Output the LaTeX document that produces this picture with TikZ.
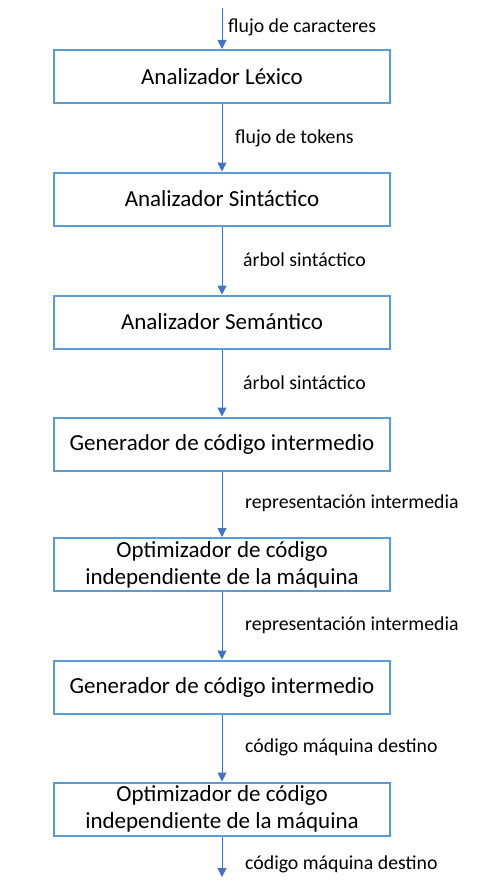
\documentclass[tikz,border=0pt]{standalone}
\usepackage{fontspec}
\setmainfont{Carlito}
\usetikzlibrary{arrows.meta}
\definecolor{boxblue}{HTML}{5B9BD5}
\definecolor{arrowblue}{HTML}{4472C4}
\begin{document}
\begin{tikzpicture}
[x=1pt, y=-1pt,
 fase/.style={draw=boxblue, line width=2pt, minimum width=336pt, minimum height=53pt,
   align=center, font=\fontsize{23}{27}\selectfont, inner sep=0pt},
 etiqueta/.style={anchor=west, font=\fontsize{19.8}{22}\selectfont, inner sep=0pt},
 flujo/.style={draw=arrowblue, line width=1pt, -{Triangle[width=9pt,length=9pt]}}]
\useasboundingbox (0,0) rectangle (488,888);
\node[fase] (lexico) at (222,76.5) {Analizador Léxico};
\node[fase] (sintactico) at (222,199) {Analizador Sintáctico};
\node[fase] (semantico) at (222,322) {Analizador Semántico};
\node[fase] (intermedio) at (222,444) {Generador de código intermedio};
\node[fase] (optimizador) at (222,564.5) {Optimizador de código\\independiente de la máquina};
\node[fase] (generador) at (222,687) {Generador de código intermedio};
\node[fase] (optimizadorb) at (222,809) {Optimizador de código\\independiente de la máquina};
\coordinate (entrada) at (222,8);
\coordinate (salida) at (222,877);
% flechas entre fases
\draw[flujo] (entrada) -- (lexico);
\draw[flujo] (lexico) -- (sintactico);
\draw[flujo] (sintactico) -- (semantico);
\draw[flujo] (semantico) -- (intermedio);
\draw[flujo] (intermedio) -- (optimizador);
\draw[flujo] (optimizador) -- (generador);
\draw[flujo] (generador) -- (optimizadorb);
\draw[flujo] (optimizadorb) -- (salida);
% etiquetas
\node[etiqueta] (caracteres) at (228,27) {flujo de caracteres};
\node[etiqueta] (tokens) at (235,138) {flujo de tokens};
\node[etiqueta] (arbol) at (243,260) {árbol sintáctico};
\node[etiqueta] (arbolb) at (243,383) {árbol sintáctico};
\node[etiqueta] (repr) at (245,503) {representación intermedia};
\node[etiqueta] (reprb) at (245,625) {representación intermedia};
\node[etiqueta] (destino) at (245,747) {código máquina destino};
\node[etiqueta] (destinob) at (245,864) {código máquina destino};
\end{tikzpicture}
\end{document}
